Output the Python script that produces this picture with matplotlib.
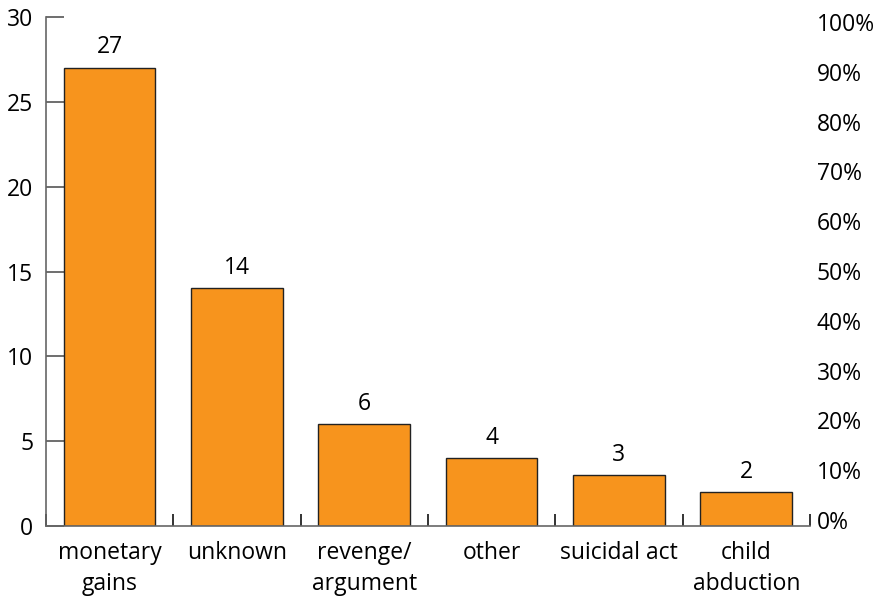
import numpy as np
import matplotlib.pyplot as plt
from matplotlib.ticker import FixedLocator

# data
categories = ['monetary\ngains', 'unknown', 'revenge/\nargument', 'other',
              'suicidal act', 'child\nabduction']
counts = [27, 14, 6, 4, 3, 2]
left_ticks = [0, 5, 10, 15, 20, 25, 30]
pct_ticks = [0, 10, 20, 30, 40, 50, 60, 70, 80, 90, 100]

plt.rcParams['font.family'] = ['Open Sans', 'DejaVu Sans']
FS = 16.5

fig = plt.figure(figsize=(8.79, 5.97), dpi=100)
ax = fig.add_axes([0.0523, 0.1189, 0.8692, 0.8526])

x = np.arange(len(categories))
bars = ax.bar(x, counts, width=0.72, color='#F7941D', edgecolor='#222222',
              linewidth=1.0, zorder=2)

for xi, v in zip(x, counts):
    ax.text(xi, v + 0.5, str(v), ha='center', va='bottom', fontsize=FS)

ax.set_xlim(-0.5, len(categories) - 0.5)
ax.set_ylim(0, 30)
ax.set_yticks(left_ticks)
ax.tick_params(axis='y', direction='in', length=13, width=1.2, color='#555555',
               labelsize=FS, pad=9)

ax.set_xticks(x)
ax.set_xticklabels(categories, fontsize=FS, linespacing=1.38)
ax.xaxis.set_minor_locator(FixedLocator(np.arange(-0.5, len(categories), 1.0)))
ax.tick_params(axis='x', which='major', length=0, pad=11)
ax.tick_params(axis='x', which='minor', direction='in', length=9, width=1.2,
               color='#111111')

for s in ['top', 'right']:
    ax.spines[s].set_visible(False)
for s in ['left', 'bottom']:
    ax.spines[s].set_color('#666666')
    ax.spines[s].set_linewidth(1.2)

ax2 = ax.twinx()
ax2.set_ylim(-1.2, 101.0)
ax2.set_yticks(pct_ticks)
ax2.set_yticklabels([f'{p}%' for p in pct_ticks])
ax2.tick_params(axis='y', length=0, labelsize=FS, pad=5)
for s in ax2.spines.values():
    s.set_visible(False)

fig.savefig('out.png', dpi=100)
